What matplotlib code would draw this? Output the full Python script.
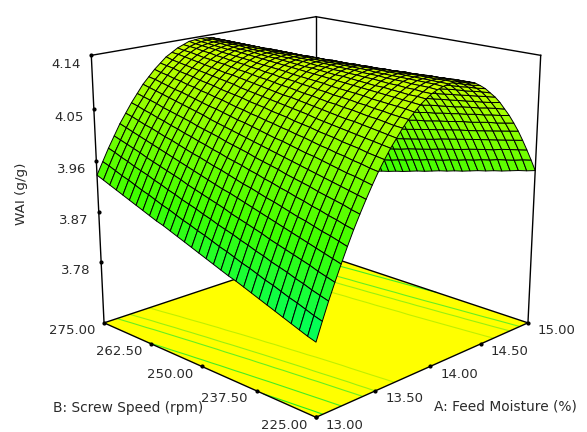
import numpy as np
import matplotlib
matplotlib.use("Agg")
import matplotlib.pyplot as plt
from matplotlib.colors import LinearSegmentedColormap, Normalize
from mpl_toolkits.mplot3d import proj3d

# Factors and response
moisture_ticks = [13.00, 13.50, 14.00, 14.50, 15.00]
speed_ticks = [225.00, 237.50, 250.00, 262.50, 275.00]
wai_ticks = [3.78, 3.87, 3.96, 4.05, 4.14]
wai_floor = 3.667
contour_levels = [3.82, 3.90, 3.98, 4.02, 4.07]

moisture = [13.00, 13.05, 13.10, 13.15, 13.20, 13.25, 13.30, 13.35, 13.40, 13.45, 13.50,
            13.55, 13.60, 13.65, 13.70, 13.75, 13.80, 13.85, 13.90, 13.95, 14.00,
            14.05, 14.10, 14.15, 14.20, 14.25, 14.30, 14.35, 14.40, 14.45, 14.50,
            14.55, 14.60, 14.65, 14.70, 14.75, 14.80, 14.85, 14.90, 14.95, 15.00]
speed = [225.00, 226.67, 228.33, 230.00, 231.67, 233.33, 235.00, 236.67, 238.33, 240.00, 241.67,
         243.33, 245.00, 246.67, 248.33, 250.00, 251.67, 253.33, 255.00, 256.67, 258.33,
         260.00, 261.67, 263.33, 265.00, 266.67, 268.33, 270.00, 271.67, 273.33, 275.00]
# one row per moisture value, one column per speed value
wai = [
    [3.788, 3.792, 3.797, 3.802, 3.807, 3.812, 3.817, 3.822, 3.827, 3.832, 3.837, 3.841, 3.846, 3.851, 3.856, 3.861, 3.866, 3.871, 3.876, 3.881, 3.886, 3.890, 3.895, 3.900, 3.905, 3.910, 3.915, 3.920, 3.925, 3.930, 3.935],
    [3.817, 3.821, 3.826, 3.831, 3.835, 3.840, 3.845, 3.849, 3.854, 3.859, 3.863, 3.868, 3.873, 3.877, 3.882, 3.887, 3.891, 3.896, 3.900, 3.905, 3.910, 3.914, 3.919, 3.924, 3.928, 3.933, 3.938, 3.942, 3.947, 3.952, 3.956],
    [3.845, 3.849, 3.853, 3.858, 3.862, 3.867, 3.871, 3.875, 3.880, 3.884, 3.889, 3.893, 3.898, 3.902, 3.906, 3.911, 3.915, 3.920, 3.924, 3.928, 3.933, 3.937, 3.942, 3.946, 3.951, 3.955, 3.959, 3.964, 3.968, 3.973, 3.977],
    [3.871, 3.875, 3.879, 3.884, 3.888, 3.892, 3.896, 3.900, 3.904, 3.909, 3.913, 3.917, 3.921, 3.925, 3.930, 3.934, 3.938, 3.942, 3.946, 3.950, 3.955, 3.959, 3.963, 3.967, 3.971, 3.975, 3.980, 3.984, 3.988, 3.992, 3.996],
    [3.896, 3.900, 3.904, 3.908, 3.912, 3.916, 3.920, 3.924, 3.928, 3.932, 3.936, 3.940, 3.944, 3.948, 3.952, 3.955, 3.959, 3.963, 3.967, 3.971, 3.975, 3.979, 3.983, 3.987, 3.991, 3.995, 3.999, 4.003, 4.007, 4.011, 4.015],
    [3.920, 3.924, 3.928, 3.931, 3.935, 3.939, 3.942, 3.946, 3.950, 3.954, 3.957, 3.961, 3.965, 3.968, 3.972, 3.976, 3.980, 3.983, 3.987, 3.991, 3.994, 3.998, 4.002, 4.006, 4.009, 4.013, 4.017, 4.020, 4.024, 4.028, 4.031],
    [3.943, 3.946, 3.950, 3.953, 3.957, 3.960, 3.964, 3.967, 3.971, 3.974, 3.978, 3.981, 3.985, 3.988, 3.992, 3.995, 3.998, 4.002, 4.005, 4.009, 4.012, 4.016, 4.019, 4.023, 4.026, 4.030, 4.033, 4.037, 4.040, 4.044, 4.047],
    [3.964, 3.967, 3.971, 3.974, 3.977, 3.980, 3.984, 3.987, 3.990, 3.993, 3.997, 4.000, 4.003, 4.006, 4.010, 4.013, 4.016, 4.019, 4.023, 4.026, 4.029, 4.032, 4.036, 4.039, 4.042, 4.045, 4.048, 4.052, 4.055, 4.058, 4.061],
    [3.984, 3.987, 3.990, 3.993, 3.996, 3.999, 4.002, 4.005, 4.008, 4.011, 4.014, 4.017, 4.020, 4.023, 4.026, 4.029, 4.032, 4.035, 4.038, 4.041, 4.044, 4.048, 4.051, 4.054, 4.057, 4.060, 4.063, 4.066, 4.069, 4.072, 4.075],
    [4.003, 4.006, 4.009, 4.011, 4.014, 4.017, 4.020, 4.023, 4.025, 4.028, 4.031, 4.034, 4.036, 4.039, 4.042, 4.045, 4.048, 4.050, 4.053, 4.056, 4.059, 4.061, 4.064, 4.067, 4.070, 4.073, 4.075, 4.078, 4.081, 4.084, 4.086],
    [4.021, 4.023, 4.026, 4.028, 4.031, 4.033, 4.036, 4.038, 4.041, 4.044, 4.046, 4.049, 4.051, 4.054, 4.056, 4.059, 4.061, 4.064, 4.066, 4.069, 4.072, 4.074, 4.077, 4.079, 4.082, 4.084, 4.087, 4.089, 4.092, 4.094, 4.097],
    [4.037, 4.039, 4.041, 4.044, 4.046, 4.048, 4.051, 4.053, 4.055, 4.058, 4.060, 4.062, 4.065, 4.067, 4.069, 4.072, 4.074, 4.076, 4.079, 4.081, 4.083, 4.085, 4.088, 4.090, 4.092, 4.095, 4.097, 4.099, 4.102, 4.104, 4.106],
    [4.052, 4.054, 4.056, 4.058, 4.060, 4.062, 4.064, 4.066, 4.068, 4.070, 4.073, 4.075, 4.077, 4.079, 4.081, 4.083, 4.085, 4.087, 4.089, 4.091, 4.094, 4.096, 4.098, 4.100, 4.102, 4.104, 4.106, 4.108, 4.110, 4.112, 4.115],
    [4.065, 4.067, 4.069, 4.071, 4.073, 4.075, 4.076, 4.078, 4.080, 4.082, 4.084, 4.086, 4.088, 4.090, 4.091, 4.093, 4.095, 4.097, 4.099, 4.101, 4.103, 4.105, 4.106, 4.108, 4.110, 4.112, 4.114, 4.116, 4.118, 4.120, 4.121],
    [4.078, 4.079, 4.081, 4.083, 4.084, 4.086, 4.088, 4.089, 4.091, 4.092, 4.094, 4.096, 4.097, 4.099, 4.101, 4.102, 4.104, 4.106, 4.107, 4.109, 4.111, 4.112, 4.114, 4.116, 4.117, 4.119, 4.120, 4.122, 4.124, 4.125, 4.127],
    [4.089, 4.090, 4.091, 4.093, 4.094, 4.096, 4.097, 4.099, 4.100, 4.101, 4.103, 4.104, 4.106, 4.107, 4.109, 4.110, 4.111, 4.113, 4.114, 4.116, 4.117, 4.119, 4.120, 4.121, 4.123, 4.124, 4.126, 4.127, 4.129, 4.130, 4.131],
    [4.098, 4.100, 4.101, 4.102, 4.103, 4.104, 4.106, 4.107, 4.108, 4.109, 4.110, 4.112, 4.113, 4.114, 4.115, 4.116, 4.118, 4.119, 4.120, 4.121, 4.122, 4.124, 4.125, 4.126, 4.127, 4.128, 4.130, 4.131, 4.132, 4.133, 4.135],
    [4.107, 4.108, 4.109, 4.110, 4.111, 4.112, 4.113, 4.114, 4.115, 4.116, 4.117, 4.118, 4.119, 4.120, 4.121, 4.122, 4.123, 4.124, 4.125, 4.126, 4.127, 4.128, 4.129, 4.130, 4.131, 4.131, 4.132, 4.133, 4.134, 4.135, 4.136],
    [4.114, 4.115, 4.115, 4.116, 4.117, 4.118, 4.118, 4.119, 4.120, 4.121, 4.122, 4.122, 4.123, 4.124, 4.125, 4.125, 4.126, 4.127, 4.128, 4.129, 4.129, 4.130, 4.131, 4.132, 4.132, 4.133, 4.134, 4.135, 4.135, 4.136, 4.137],
    [4.120, 4.120, 4.121, 4.121, 4.122, 4.122, 4.123, 4.124, 4.124, 4.125, 4.125, 4.126, 4.126, 4.127, 4.127, 4.128, 4.129, 4.129, 4.130, 4.130, 4.131, 4.131, 4.132, 4.132, 4.133, 4.134, 4.134, 4.135, 4.135, 4.136, 4.136],
    [4.124, 4.125, 4.125, 4.125, 4.126, 4.126, 4.126, 4.127, 4.127, 4.127, 4.128, 4.128, 4.128, 4.129, 4.129, 4.129, 4.130, 4.130, 4.130, 4.131, 4.131, 4.131, 4.132, 4.132, 4.132, 4.133, 4.133, 4.133, 4.134, 4.134, 4.135],
    [4.127, 4.128, 4.128, 4.128, 4.128, 4.128, 4.128, 4.128, 4.128, 4.129, 4.129, 4.129, 4.129, 4.129, 4.129, 4.129, 4.129, 4.130, 4.130, 4.130, 4.130, 4.130, 4.130, 4.130, 4.131, 4.131, 4.131, 4.131, 4.131, 4.131, 4.131],
    [4.129, 4.129, 4.129, 4.129, 4.129, 4.129, 4.129, 4.129, 4.129, 4.129, 4.129, 4.129, 4.128, 4.128, 4.128, 4.128, 4.128, 4.128, 4.128, 4.128, 4.128, 4.128, 4.128, 4.128, 4.127, 4.127, 4.127, 4.127, 4.127, 4.127, 4.127],
    [4.130, 4.130, 4.129, 4.129, 4.129, 4.129, 4.128, 4.128, 4.128, 4.127, 4.127, 4.127, 4.127, 4.126, 4.126, 4.126, 4.125, 4.125, 4.125, 4.124, 4.124, 4.124, 4.124, 4.123, 4.123, 4.123, 4.122, 4.122, 4.122, 4.122, 4.121],
    [4.129, 4.129, 4.128, 4.128, 4.127, 4.127, 4.126, 4.126, 4.125, 4.125, 4.124, 4.124, 4.123, 4.123, 4.122, 4.122, 4.121, 4.121, 4.120, 4.120, 4.119, 4.119, 4.118, 4.118, 4.117, 4.117, 4.116, 4.116, 4.115, 4.115, 4.115],
    [4.127, 4.127, 4.126, 4.125, 4.125, 4.124, 4.123, 4.123, 4.122, 4.121, 4.120, 4.120, 4.119, 4.118, 4.118, 4.117, 4.116, 4.115, 4.115, 4.114, 4.113, 4.113, 4.112, 4.111, 4.111, 4.110, 4.109, 4.109, 4.108, 4.107, 4.106],
    [4.124, 4.123, 4.122, 4.122, 4.121, 4.120, 4.119, 4.118, 4.117, 4.116, 4.115, 4.114, 4.113, 4.112, 4.111, 4.111, 4.110, 4.109, 4.108, 4.107, 4.106, 4.105, 4.104, 4.103, 4.102, 4.101, 4.100, 4.100, 4.099, 4.098, 4.097],
    [4.120, 4.118, 4.117, 4.116, 4.115, 4.114, 4.113, 4.112, 4.111, 4.110, 4.109, 4.107, 4.106, 4.105, 4.104, 4.103, 4.102, 4.101, 4.100, 4.099, 4.097, 4.096, 4.095, 4.094, 4.093, 4.092, 4.091, 4.090, 4.089, 4.087, 4.086],
    [4.114, 4.112, 4.111, 4.110, 4.109, 4.107, 4.106, 4.105, 4.103, 4.102, 4.101, 4.099, 4.098, 4.097, 4.095, 4.094, 4.093, 4.092, 4.090, 4.089, 4.088, 4.086, 4.085, 4.084, 4.082, 4.081, 4.080, 4.078, 4.077, 4.076, 4.075],
    [4.107, 4.105, 4.104, 4.102, 4.101, 4.099, 4.098, 4.096, 4.095, 4.093, 4.092, 4.090, 4.089, 4.087, 4.086, 4.084, 4.083, 4.081, 4.080, 4.078, 4.077, 4.075, 4.074, 4.072, 4.071, 4.069, 4.068, 4.066, 4.065, 4.063, 4.061],
    [4.098, 4.097, 4.095, 4.093, 4.092, 4.090, 4.088, 4.086, 4.085, 4.083, 4.081, 4.080, 4.078, 4.076, 4.074, 4.073, 4.071, 4.069, 4.068, 4.066, 4.064, 4.062, 4.061, 4.059, 4.057, 4.056, 4.054, 4.052, 4.050, 4.049, 4.047],
    [4.089, 4.087, 4.085, 4.083, 4.081, 4.079, 4.077, 4.075, 4.073, 4.071, 4.069, 4.068, 4.066, 4.064, 4.062, 4.060, 4.058, 4.056, 4.054, 4.052, 4.050, 4.048, 4.047, 4.045, 4.043, 4.041, 4.039, 4.037, 4.035, 4.033, 4.031],
    [4.078, 4.075, 4.073, 4.071, 4.069, 4.067, 4.065, 4.063, 4.061, 4.059, 4.057, 4.054, 4.052, 4.050, 4.048, 4.046, 4.044, 4.042, 4.040, 4.038, 4.036, 4.033, 4.031, 4.029, 4.027, 4.025, 4.023, 4.021, 4.019, 4.017, 4.015],
    [4.065, 4.063, 4.061, 4.058, 4.056, 4.054, 4.051, 4.049, 4.047, 4.045, 4.042, 4.040, 4.038, 4.035, 4.033, 4.031, 4.029, 4.026, 4.024, 4.022, 4.019, 4.017, 4.015, 4.013, 4.010, 4.008, 4.006, 4.003, 4.001, 3.999, 3.996],
    [4.052, 4.049, 4.047, 4.044, 4.042, 4.039, 4.037, 4.034, 4.032, 4.029, 4.027, 4.024, 4.022, 4.019, 4.017, 4.014, 4.012, 4.009, 4.007, 4.004, 4.002, 3.999, 3.997, 3.994, 3.992, 3.989, 3.987, 3.984, 3.982, 3.979, 3.977],
    [4.037, 4.034, 4.031, 4.029, 4.026, 4.023, 4.021, 4.018, 4.015, 4.013, 4.010, 4.007, 4.005, 4.002, 3.999, 3.997, 3.994, 3.991, 3.989, 3.986, 3.983, 3.981, 3.978, 3.975, 3.973, 3.970, 3.967, 3.965, 3.962, 3.959, 3.956],
    [4.021, 4.018, 4.015, 4.012, 4.009, 4.006, 4.003, 4.001, 3.998, 3.995, 3.992, 3.989, 3.986, 3.983, 3.980, 3.978, 3.975, 3.972, 3.969, 3.966, 3.963, 3.960, 3.957, 3.955, 3.952, 3.949, 3.946, 3.943, 3.940, 3.937, 3.935],
    [4.003, 4.000, 3.997, 3.994, 3.991, 3.988, 3.985, 3.982, 3.979, 3.976, 3.973, 3.969, 3.966, 3.963, 3.960, 3.957, 3.954, 3.951, 3.948, 3.945, 3.942, 3.939, 3.936, 3.933, 3.930, 3.927, 3.924, 3.921, 3.918, 3.915, 3.911],
    [3.984, 3.981, 3.978, 3.975, 3.971, 3.968, 3.965, 3.962, 3.958, 3.955, 3.952, 3.949, 3.945, 3.942, 3.939, 3.936, 3.932, 3.929, 3.926, 3.923, 3.919, 3.916, 3.913, 3.910, 3.906, 3.903, 3.900, 3.897, 3.893, 3.890, 3.887],
    [3.964, 3.961, 3.957, 3.954, 3.951, 3.947, 3.944, 3.940, 3.937, 3.933, 3.930, 3.926, 3.923, 3.920, 3.916, 3.913, 3.909, 3.906, 3.902, 3.899, 3.895, 3.892, 3.889, 3.885, 3.882, 3.878, 3.875, 3.871, 3.868, 3.864, 3.861],
    [3.943, 3.939, 3.936, 3.932, 3.928, 3.925, 3.921, 3.918, 3.914, 3.910, 3.907, 3.903, 3.900, 3.896, 3.892, 3.889, 3.885, 3.881, 3.878, 3.874, 3.871, 3.867, 3.863, 3.860, 3.856, 3.852, 3.849, 3.845, 3.842, 3.838, 3.835],
]

plt.rcParams["font.family"] = ["DejaVu Sans"]
TEXT = "#2a2a2a"

fig = plt.figure(figsize=(5.87, 4.32), dpi=100)
ax = fig.add_axes([57.7 / 587, -19.3 / 432, 503 / 587, 503 / 432],
                  projection="3d", computed_zorder=False)
ax.set_proj_type("persp", focal_length=0.515)
ax.view_init(elev=17, azim=-135)
ax.set_box_aspect((1, 1, 0.906), zoom=1.0)
ax.set_axis_off()

a0, a1 = moisture_ticks[0], moisture_ticks[-1]
b0, b1 = speed_ticks[0], speed_ticks[-1]
z0, z1 = wai_floor, wai_ticks[-1]
ax.set_xlim(a0, a1, view_margin=0)
ax.set_ylim(b0, b1, view_margin=0)
ax.set_zlim(z0, z1, view_margin=0)

X, Y = np.meshgrid(moisture, speed, indexing="ij")
Z = np.array(wai)

# floor and its contours
fx, fy = np.meshgrid([a0, a1], [b0, b1], indexing="ij")
ax.plot_surface(fx, fy, np.full_like(fx, z0), color="#ffff00", shade=False,
                linewidth=0, zorder=1)
ax.contour(X, Y, Z, levels=contour_levels, zdir="z", offset=z0,
           colors=["#22ee22", "#44ee22", "#66f020", "#99f010", "#c0f000"],
           linewidths=0.8, zorder=2)

# box lines behind the surface
line = dict(color="black", lw=1.0)
ax.plot([a0, a1], [b1, b1], [z0, z0], zorder=2.5, **line)
ax.plot([a1, a1], [b0, b1], [z0, z0], zorder=2.5, **line)
ax.plot([a1, a1], [b1, b1], [z0, z1], zorder=2.5, **line)
ax.plot([a0, a1], [b1, b1], [z1, z1], zorder=2.5, **line)
ax.plot([a1, a1], [b0, b1], [z1, z1], zorder=2.5, **line)
ax.plot([a0, a1], [b0, b0], [z0, z0], zorder=2.5, **line)
ax.plot([a0, a0], [b0, b1], [z0, z0], zorder=2.5, **line)

# surface
cmap = LinearSegmentedColormap.from_list(
    "wai", [(0.0, "#00ff5a"), (0.33, "#3cff00"), (1.0, "#d2ff00")])
norm = Normalize(3.78, 4.14)
ax.plot_surface(X, Y, Z, facecolors=cmap(norm(Z)), edgecolor="black",
                linewidth=0.7, rstride=1, cstride=1, shade=False, zorder=3)

# verticals in front
ax.plot([a0, a0], [b1, b1], [z0, z1], zorder=4, **line)
ax.plot([a1, a1], [b0, b0], [z0, z1], zorder=4, **line)


def label(x, y, z, text, dx, dy):
    px, py, _ = proj3d.proj_transform(x, y, z, ax.get_proj())
    ax.annotate(text, xy=(px, py), xytext=(dx * 0.72, dy * 0.72),
                textcoords="offset points", ha="center", va="center",
                fontsize=9.5, color=TEXT, annotation_clip=False)


# ticks
tick = dict(ls="none", marker="o", ms=2, color="black", zorder=4)
for a in moisture_ticks:
    ax.plot([a], [b0], [z0], **tick)
    label(a, b0, z0, f"{a:.2f}", 29, -8)
for b in speed_ticks:
    ax.plot([a0], [b], [z0], **tick)
    label(a0, b, z0, f"{b:.2f}", -32, -8)
for w in wai_ticks:
    ax.plot([a0], [b1], [w], **tick)
    label(a0, b1, w, f"{w:.2f}", -25, -9)

fig.text(21 / 587, 1 - 194 / 432, "WAI (g/g)", rotation=90, ha="center",
         va="center", fontsize=9.7, color=TEXT)
fig.text(505 / 587, 1 - 407 / 432, "A: Feed Moisture (%)", ha="center",
         va="center", fontsize=9.9, color=TEXT)
fig.text(128 / 587, 1 - 408 / 432, "B: Screw Speed (rpm)", ha="center",
         va="center", fontsize=9.9, color=TEXT)

fig.savefig("out.png", dpi=100)
